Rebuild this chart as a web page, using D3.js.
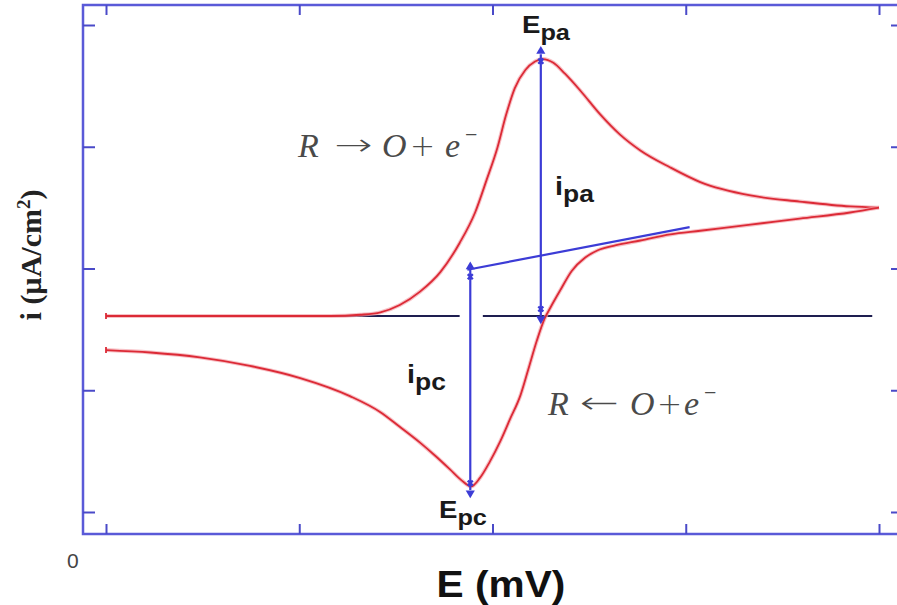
<!DOCTYPE html>
<meta charset="utf-8">
<style>
body { margin: 0; background: #fff; }
.frame { fill: none; stroke: #5a5ad8; stroke-width: 2.5px; }
.tick line { stroke: #4a4ac8; stroke-width: 2px; }
.cvhalo { fill: none; stroke: #f3a6ae; stroke-width: 4px; opacity: 0.7; }
.cv { fill: none; stroke: #dc2a36; stroke-width: 1.8px; }
.base { fill: none; stroke: #1e1e50; stroke-width: 2px; }
.guide { fill: none; stroke: #3c3cd6; stroke-width: 2.2px; }
.lab { font-family: Arial, "Liberation Sans", sans-serif; font-weight: bold; fill: #1a1a1a; }
.rxn { font-family: "Liberation Serif", "Times New Roman", serif; fill: #4a4a4a; font-size: 34px; }
</style>
<body>
<svg id="graph"></svg>
<script src="https://d3js.org/d3.v7.min.js"></script>
<script>

// tick values (no labels printed on the original)
var xTicks = [0, 200, 400, 600, 800];       // E (mV)
var yTicks = [0, 10, 20, 30, 40];           // i (uA/cm2)

// forward (anodic) sweep
var fwdE = [0, 97, 201, 232, 263, 284, 304, 325, 346, 366, 382, 394, 405, 414, 423, 434, 444, 452, 463, 475, 491, 511, 532, 553, 584, 615, 667, 718, 770, 800];
var fwdI = [16.1, 16.1, 16.1, 16.1, 16.2, 16.4, 17.0, 18.1, 19.7, 22.1, 24.6, 27.3, 29.9, 32.6, 34.8, 36.3, 37.0, 37.2, 36.9, 36.0, 34.6, 32.7, 31.0, 29.7, 28.3, 27.1, 26.0, 25.5, 25.1, 25.0];

// reverse (cathodic) sweep
var revE = [800, 770, 718, 667, 615, 584, 553, 527, 509, 496, 482, 470, 460, 454, 446, 437, 429, 418, 408, 397, 387, 378, 368, 356, 341, 325, 304, 284, 253, 201, 149, 97, 46, 0];
var revI = [25.0, 24.6, 24.1, 23.6, 23.1, 22.8, 22.3, 21.9, 21.5, 20.9, 19.8, 18.2, 16.8, 15.9, 14.1, 11.7, 9.6, 7.6, 5.8, 4.1, 2.8, 2.1, 2.6, 3.5, 4.6, 5.7, 7.0, 8.2, 9.5, 11.0, 12.0, 12.7, 13.1, 13.3];

// peaks and baselines
var Epa = 450, ipaTop = 37.6, Epc = 377, ipcBottom = 1.8;
var baseI = 16.1;
var baseSegs = [[0, 366], [390, 793]];
var revBaseE = [374, 604], revBaseI = [19.9, 23.4];

var W = 897, H = 605;
var frame = {left: 83, top: 5, right: 899, bottom: 534};

var svg = d3.select("#graph").attr("width", W).attr("height", H);

var x = d3.scaleLinear().domain([0, 800]).range([106, 879]);
var y = d3.scaleLinear().domain([0, 40]).range([512, 25]);

// frame
svg.append("rect").attr("class", "frame")
    .attr("x", frame.left).attr("y", frame.top)
    .attr("width", frame.right - frame.left).attr("height", frame.bottom - frame.top);

// ticks, pointing inwards
function ticksOnly(g) { g.select(".domain").remove(); }
svg.append("g").attr("transform", "translate(0," + frame.bottom + ")")
    .call(d3.axisBottom(x).tickValues(xTicks).tickSize(-10).tickFormat("")).call(ticksOnly);
svg.append("g").attr("transform", "translate(0," + frame.top + ")")
    .call(d3.axisTop(x).tickValues(xTicks).tickSize(-10).tickFormat("")).call(ticksOnly);
svg.append("g").attr("transform", "translate(" + frame.left + ",0)")
    .call(d3.axisLeft(y).tickValues(yTicks).tickSize(-12).tickFormat("")).call(ticksOnly);
svg.append("g").attr("transform", "translate(" + frame.right + ",0)")
    .call(d3.axisRight(y).tickValues(yTicks).tickSize(-8).tickFormat("")).call(ticksOnly);

// baseline (horizontal)
baseSegs.forEach(function(s) {
  svg.append("line").attr("class", "base")
      .attr("x1", x(s[0])).attr("x2", x(s[1]))
      .attr("y1", y(baseI)).attr("y2", y(baseI));
});

// voltammogram
var line = d3.line()
    .x(function(d) { return x(d[0]); })
    .y(function(d) { return y(d[1]); })
    .curve(d3.curveMonotoneX);

var fwd = fwdE.map(function(e, i) { return [e, fwdI[i]]; });
var rev = revE.map(function(e, i) { return [e, revI[i]]; });

[fwd, rev].forEach(function(s) {
  svg.append("path").datum(s).attr("class", "cvhalo").attr("d", line);
  svg.append("path").datum(s).attr("class", "cv").attr("d", line);
  // little end cap where the trace starts/ends at the left
  var p = s[0][0] == 0 ? s[0] : s[s.length - 1];
  svg.append("line").attr("class", "cv")
      .attr("x1", x(p[0])).attr("x2", x(p[0]))
      .attr("y1", y(p[1]) - 3).attr("y2", y(p[1]) + 3);
});

// extrapolated baseline for the cathodic wave
svg.append("line").attr("class", "guide")
    .attr("x1", x(revBaseE[0])).attr("y1", y(revBaseI[0]))
    .attr("x2", x(revBaseE[1])).attr("y2", y(revBaseI[1]));

// peak current arrows
function vArrow(E, i0, i1) {
  svg.append("line").attr("class", "guide")
      .attr("x1", x(E)).attr("x2", x(E))
      .attr("y1", y(i0)).attr("y2", y(i1));
  [i0, i1].forEach(function(v, k) {
    var other = (k == 0 ? i1 : i0);
    var dir = (v > other ? -1 : 1);   // -1: end is at the top
    svg.append("path")
        .attr("d", d3.symbol(d3.symbolTriangle, 36)())
        .attr("transform", "translate(" + x(E) + "," + (y(v) + dir * 3) + ") rotate(" + (dir < 0 ? 0 : 180) + ")")
        .style("fill", "#3c3cd6");
    svg.append("path")
        .attr("d", d3.symbol(d3.symbolCross, 28)())
        .attr("transform", "translate(" + x(E) + "," + (y(v) - dir * 7) + ") rotate(45)")
        .style("fill", "#3c3cd6");
  });
}
vArrow(Epa, ipaTop, baseI);
vArrow(Epc, ipcBottom, revBaseI[0]);

// labels with subscripts (slightly widened like the original)
function subLabel(px, py, main, sub, size) {
  var t = svg.append("text").attr("class", "lab")
      .attr("transform", "translate(" + px + "," + py + ") scale(1.15,1)")
      .style("font-size", size + "px");
  t.append("tspan").text(main);
  t.append("tspan").attr("dy", 7).style("font-size", (size - 2) + "px").text(sub);
}
subLabel(522, 33, "E", "pa", 24);
subLabel(439, 518, "E", "pc", 24);
subLabel(555, 195, "i", "pa", 25);
subLabel(407, 383, "i", "pc", 25);

// reaction equations: R, arrow, O, +, e, superscript minus
function rxn(xs, py, arrow) {
  var g = svg.append("g").attr("class", "rxn");
  g.append("text").attr("x", xs[0]).attr("y", py).style("font-style", "italic").text("R");
  g.append("text")
      .attr("transform", "translate(" + xs[1] + "," + (py - 2) + ") scale(" + ((xs[2] - xs[1]) / 25) + ",1)")
      .style("font-family", "'DejaVu Sans', sans-serif").style("font-weight", "200").style("font-size", "30px")
      .text(arrow);
  g.append("text").attr("x", xs[3]).attr("y", py).style("font-style", "italic").text("O");
  g.append("text").attr("x", xs[4]).attr("y", py - 1).style("font-family", "'DejaVu Sans', sans-serif")
      .style("font-weight", "200").style("font-size", "30px").text("+");
  g.append("text").attr("x", xs[5]).attr("y", py).style("font-style", "italic").text("e");
  g.append("text").attr("x", xs[5] + 20).attr("y", py - 15).style("font-size", "22px").text("\u2212");
}
rxn([298, 334, 372, 382, 410, 445], 157, "\u2192");
rxn([548, 580, 619, 630, 657, 684], 415, "\u2190");

// axis titles
svg.append("text")
    .attr("transform", "translate(501,597) scale(1.13,1)")
    .attr("text-anchor", "middle")
    .style("font-family", "Arial, 'Liberation Sans', sans-serif")
    .style("font-weight", "bold").style("font-size", "36px").style("fill", "#111")
    .text("E (mV)");

var yl = svg.append("text")
    .attr("transform", "translate(41,255) rotate(-90)")
    .attr("text-anchor", "middle")
    .style("font-family", "'Liberation Serif', 'Times New Roman', serif")
    .style("font-weight", "bold").style("font-size", "30px").style("fill", "#222");
yl.append("tspan").text("i (\u00b5A/cm");
yl.append("tspan").attr("dy", -11).style("font-size", "19px").text("2");
yl.append("tspan").attr("dy", 11).text(")");

svg.append("text")
    .attr("x", 67).attr("y", 568)
    .style("font-family", "Arial, 'Liberation Sans', sans-serif")
    .style("font-size", "21px").style("fill", "#444")
    .text("0");

</script>
</body>
